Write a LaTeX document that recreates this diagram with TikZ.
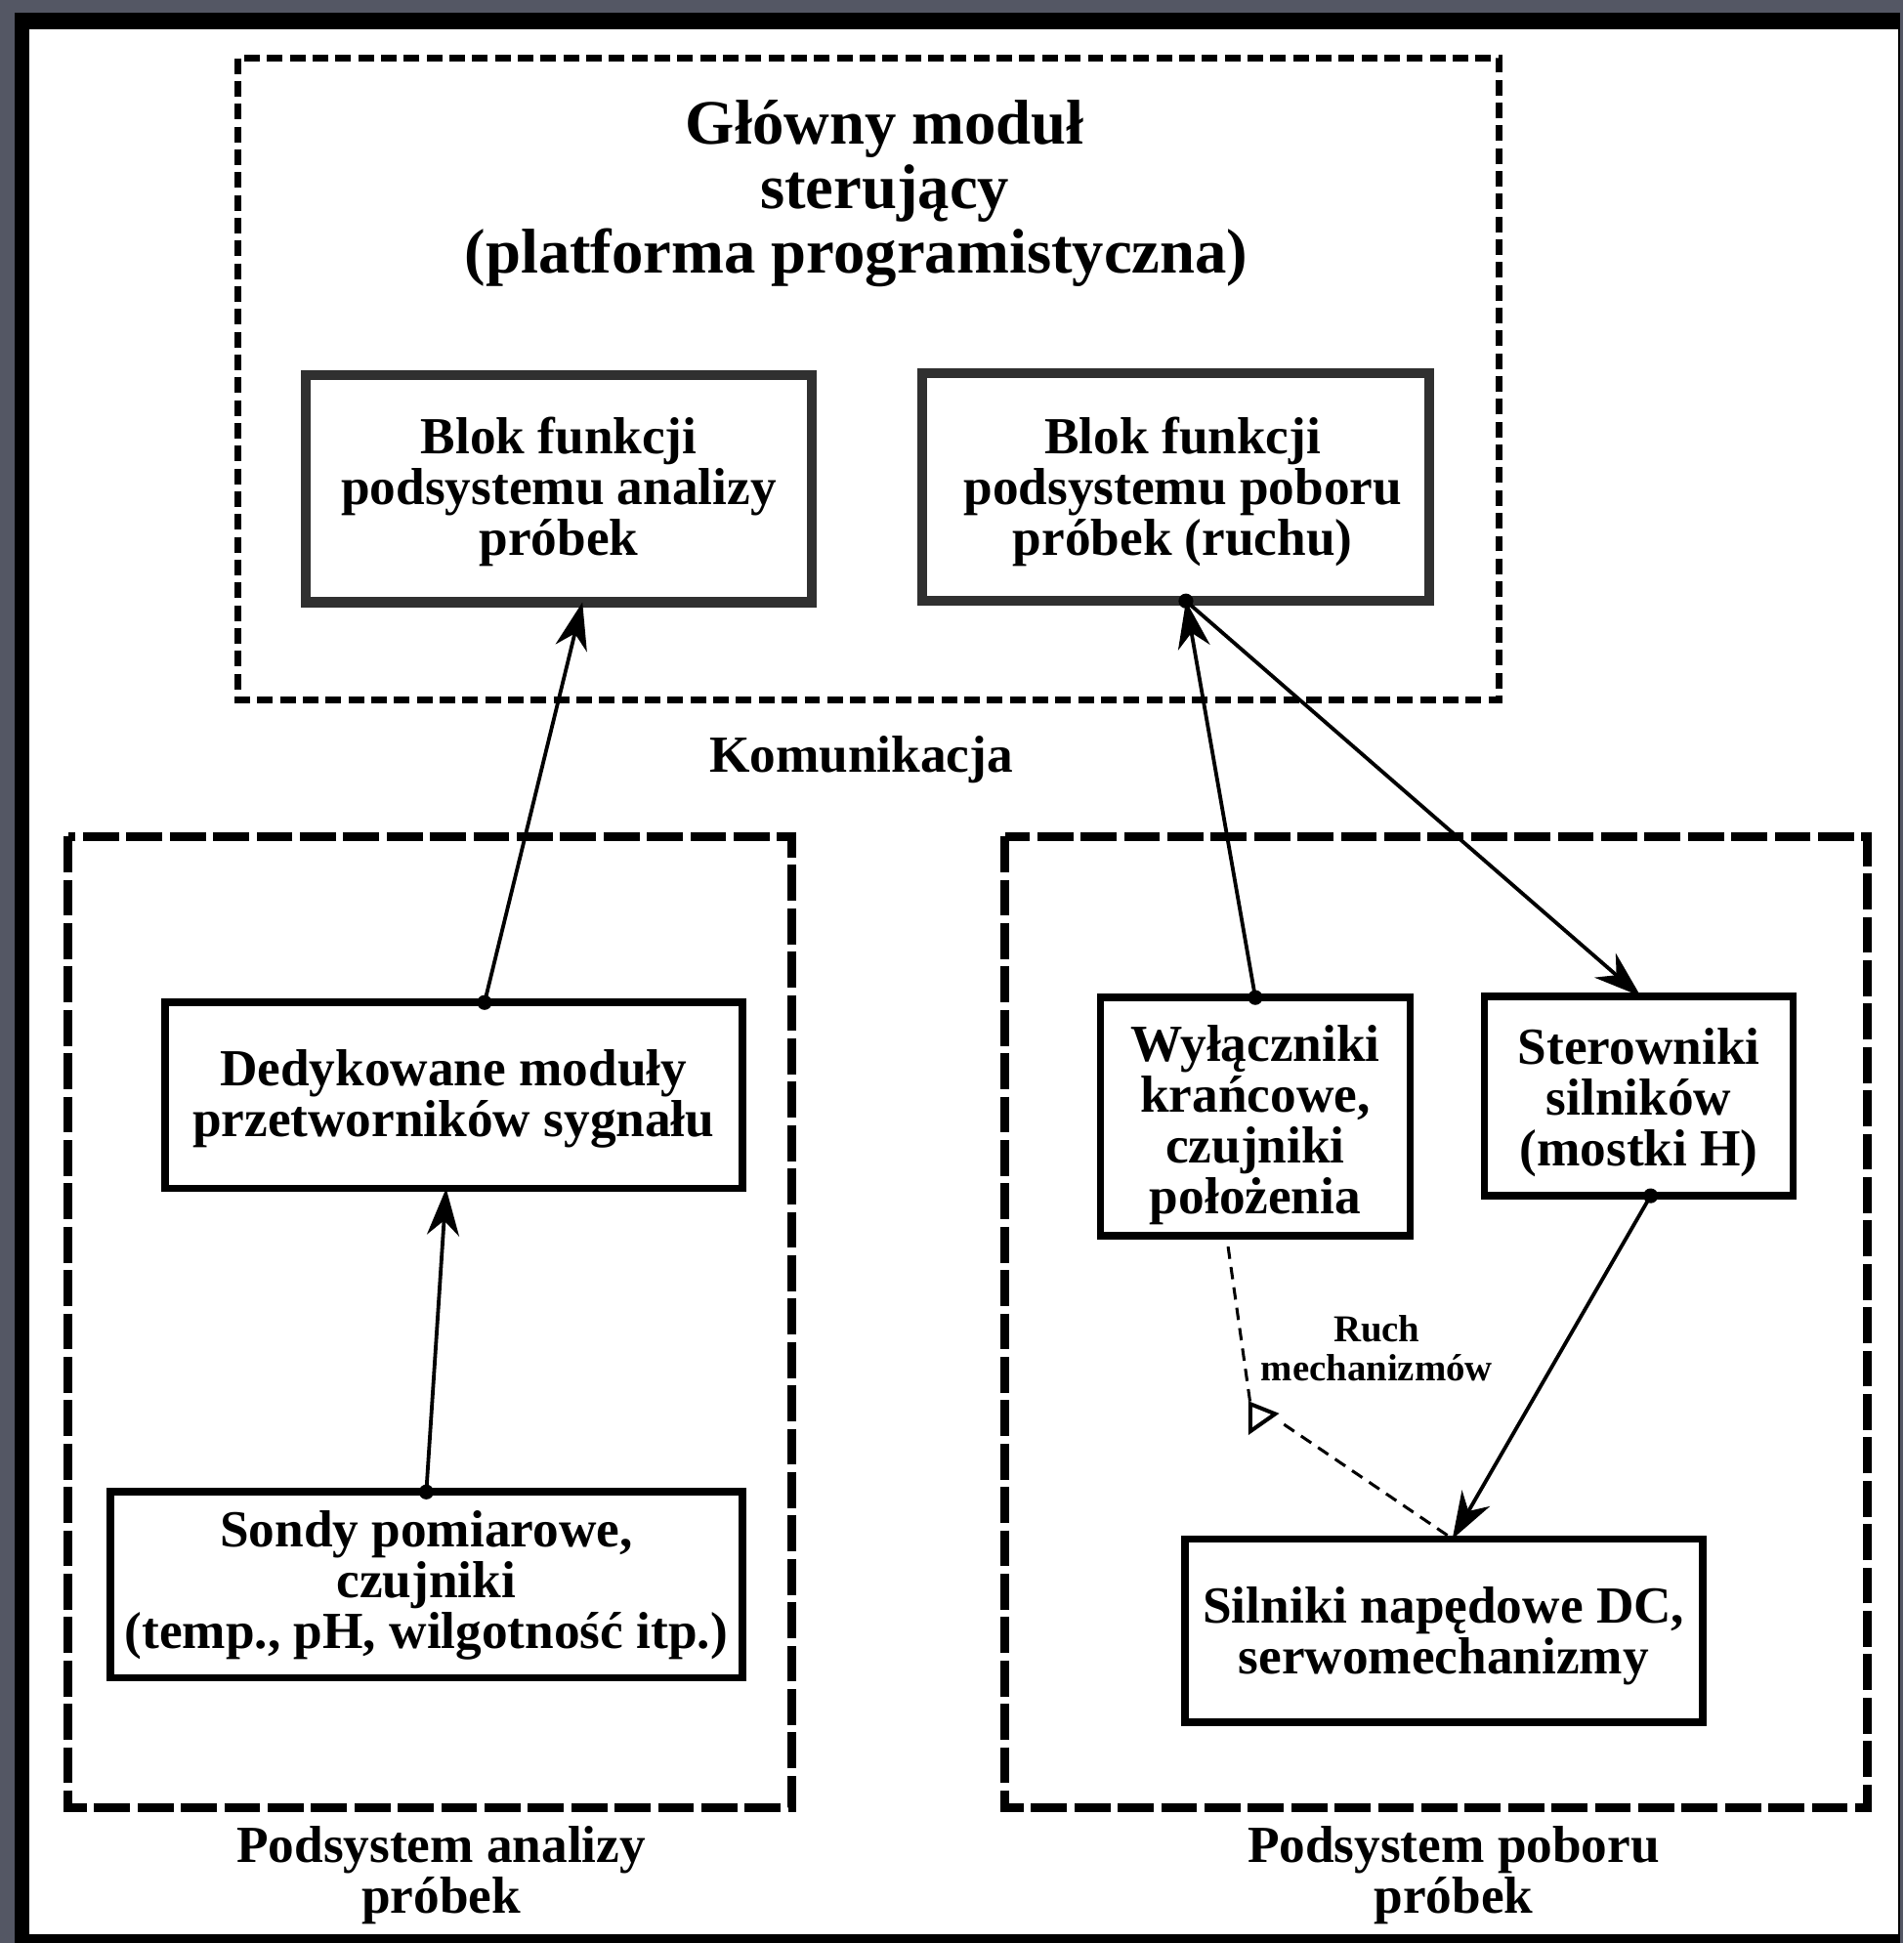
\documentclass[tikz,border=0pt]{standalone}
\usepackage{fontspec}
\setmainfont{Liberation Serif}
\usepackage{tikz}
\usetikzlibrary{calc}
\usetikzlibrary{arrows.meta}
\usepackage{xcolor}
\definecolor{tlo}{RGB}{84,87,100}
\definecolor{blokszary}{RGB}{48,48,48}
% first-line strut, moves the text of a box down
\newcommand{\gora}[1]{\rule{0pt}{#1}}

\begin{document}
\begin{tikzpicture}[x=0.5pt, y=-0.5pt,
    tekst/.style={align=center, font=\bfseries\fontsize{21}{20.5}\selectfont},
    blok/.style={tekst, draw=blokszary, line width=4pt, inner sep=0pt, outer sep=0pt},
    modul/.style={tekst, draw, line width=3pt, inner sep=0pt, outer sep=0pt},
    ramka/.style={line width=2.7pt, dash pattern=on 6.3pt off 2.9pt},
    podramka/.style={line width=3.5pt, dash pattern=on 14.5pt off 3pt},
    sygnal/.style={line width=1.5pt, -{Stealth[length=19pt, width=13pt, inset=6pt]}}
  ]
    % Background and frame
    \useasboundingbox (0,0) rectangle (1536,1568);
    \fill[tlo] (0,0) rectangle (1536,1568);
    \fill[black] (12,10) rectangle (1533,1568);
    \fill[white] (24,24) rectangle (1532,1561);

    % Main control module
    \draw[ramka] (192,47) rectangle (1210,565);
    \node[align=center, font=\bfseries\fontsize{25.5}{26}\selectfont] (tytul) at (714,156)
        {Główny moduł\\sterujący\\(platforma programistyczna)\hspace*{23pt}};
    \node[blok, minimum width=204pt, minimum height=91.5pt] (blokA) at (451,394.5)
        {\gora{17.5pt}Blok funkcji\\podsystemu analizy\\próbek};
    \node[blok, minimum width=204.5pt, minimum height=92pt] (blokB) at (948.5,393)
        {\gora{18.5pt}\hspace*{6pt}Blok funkcji\\\hspace*{6pt}podsystemu poboru\\\hspace*{6pt}próbek (ruchu)};
    \node[tekst] (komunikacja) at (695,613) {Komunikacja};

    % Subsystems
    \draw[podramka] (55,675) rectangle (639,1459);
    \draw[podramka] (811,675) rectangle (1507,1459);
    \node[tekst] (podA) at (356,1513) {Podsystem analizy\\próbek};
    \node[tekst] (podB) at (1173,1513) {Podsystem poboru\\próbek};

    \node[modul, minimum width=233pt, minimum height=75pt] (dedyk) at (366,884)
        {\gora{17.5pt}Dedykowane moduły\\przetworników sygnału};
    \node[modul, minimum width=255pt, minimum height=75pt] (sondy) at (344,1279)
        {Sondy pomiarowe,\\czujniki\\(temp., pH, wilgotność itp.)};
    \node[modul, minimum width=125pt, minimum height=96pt] (wyl) at (1013,901)
        {\gora{21.5pt}Wyłączniki\\krańcowe,\\czujniki\\położenia};
    \node[modul, minimum width=124.5pt, minimum height=80.5pt] (ster) at (1322.5,884.5)
        {\gora{19.5pt}Sterowniki\\silników\\(mostki H)};
    \node[modul, minimum width=209pt, minimum height=74pt] (silniki) at (1165,1316)
        {\gora{18.5pt}Silniki napędowe DC,\\serwomechanizmy};

    % Signals
    \coordinate (startA) at ($(dedyk.north)+(25,0)$);
    \coordinate (startB) at ($(blokB.south)+(8.5,0)$);
    \coordinate (startS) at ($(ster.south)+(9.5,0)$);
    \draw[sygnal] (startA) -- ($(blokA.south)+(19,0)$);
    \draw[sygnal] (sondy.north) -- ($(dedyk.south)+(-6,0)$);
    \draw[sygnal] (wyl.north) -- (startB);
    \draw[sygnal] (startB) -- ($(ster.north)+(1.5,0)$);
    \draw[sygnal] (startS) -- ($(silniki.north)+(7,0)$);
    \foreach \p in {startA, startB, startS, sondy.north, wyl.north}
        \fill (\p) circle (3pt);

    % Movement feedback
    \coordinate (zalom) at (1009,1144);
    \draw[line width=1.2pt, dash pattern=on 5pt off 3.3pt] ($(wyl.south)+(-22,9)$) -- ($(zalom)+(0,-11)$);
    \draw[line width=1.2pt, dash pattern=on 5pt off 3.3pt] ($(silniki.north)+(3,-3)$) -- ($(zalom)+(22,2)$);
    \draw[line width=1.6pt, line join=miter] ($(zalom)+(0,-11)$) -- ($(zalom)+(20,-3)$) -- ($(zalom)+(0,11)$) -- cycle;
    \node[align=center, font=\bfseries\fontsize{15.3}{15.5}\selectfont] (ruch) at (1111,1088)
        {Ruch\\mechanizmów};
\end{tikzpicture}
\end{document}
